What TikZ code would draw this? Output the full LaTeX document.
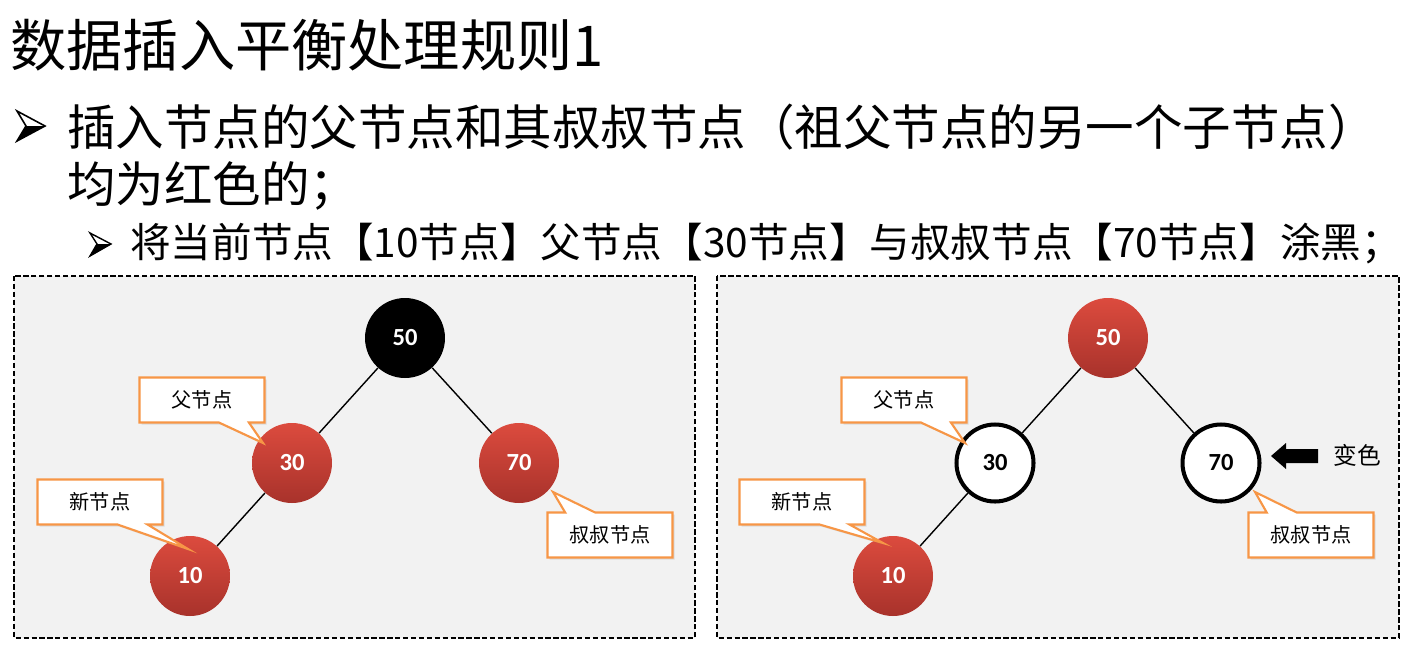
\documentclass[tikz,border=0pt]{standalone}
\usepackage{fontspec}
\setmainfont{Noto Sans CJK SC}
\newfontfamily\cjk{Noto Sans CJK SC}
\newfontfamily\numfont{Carlito}
\usetikzlibrary{shapes.callouts,calc,shadows}
\definecolor{panelgray}{HTML}{F2F2F2}
\definecolor{redtop}{HTML}{DC4B3E}
\definecolor{redbot}{HTML}{A8322B}
\definecolor{calloutorange}{HTML}{F79646}
\tikzset{
  x=0.02cm, y=-0.02cm,
  panel/.style={draw=black, fill=panelgray, line width=1pt, dash pattern=on 3pt off 1.5pt},
  numtext/.style={font=\numfont\bfseries\fontsize{14}{16}\selectfont},
  redn/.style={circle, minimum size=1.6cm, inner sep=0pt, top color=redtop, bottom color=redbot, draw=none, text=white, numtext},
  blackn/.style={circle, minimum size=1.6cm, inner sep=0pt, fill=black, text=white, numtext},
  whiten/.style={circle, minimum size=1.54cm, inner sep=0pt, fill=white, draw=black, line width=2.3pt, text=black, numtext},
  callbox/.style={rectangle callout, draw=calloutorange, line width=1.2pt, fill=white,
    minimum width=2.5cm, minimum height=0.9cm, inner sep=0pt, callout pointer width=0.6cm,
    drop shadow={opacity=0.2, shadow xshift=1.2pt, shadow yshift=-1.2pt},
    font=\cjk\fontsize{11.5}{13}\selectfont},
  treeedge/.style={draw=black, line width=0.8pt},
  txt/.style={anchor=west, inner sep=0pt},
  bulletline/.style={draw=black, line width=0.9pt, line join=miter},
}
\begin{document}
\begin{tikzpicture}
\useasboundingbox[fill=white] (0,0) rectangle (1406,670);

% title and text
\node[txt, font=\cjk\fontsize{32}{38}\selectfont] (title) at (10,45) {数据插入平衡处理规则1};
\node[txt, font=\cjk\fontsize{27.6}{32}\selectfont] (l1) at (67,127) {插入节点的父节点和其叔叔节点（祖父节点的另一个子节点）};
\node[txt, font=\cjk\fontsize{27.6}{32}\selectfont] (l2) at (67,186) {均为红色的；};
\node[txt, font=\cjk\fontsize{23.1}{27}\selectfont] (l3) at (130,244) {将当前节点【10节点】父节点【30节点】与叔叔节点【70节点】涂黑；};

% bullets (3D arrowheads)
\draw[bulletline, fill=white] (17,111) -- (45,126) -- (17,141) -- (26,126) -- cycle;
\fill[black] (26,126) -- (45,126) -- (17,141) -- cycle;
\draw[bulletline, line width=0.8pt, fill=white] (90,233) -- (111,244) -- (90,256) -- (97,244) -- cycle;
\fill[black] (97,244) -- (111,244) -- (90,256) -- cycle;

% panels
\draw[panel] (14,276) rectangle (695,638);
\draw[panel] (717,276) rectangle (1399,638);

% left tree
\node[blackn] (L50) at (405,338) {50};
\node[redn] (L30) at (292,463) {30};
\node[redn] (L70) at (519,463) {70};
\node[redn] (L10) at (190,576) {10};
\draw[treeedge] (L50) -- (L30);
\draw[treeedge] (L50) -- (L70);
\draw[treeedge] (L30) -- (L10);

\coordinate (tLf) at ($(L30)+(-29,-20)$);
\coordinate (tLn) at ($(L10)+(-2,-27)$);
\coordinate (tLu) at ($(L70)+(34,29)$);
\node[callbox, callout absolute pointer=(tLf)] (cLf) at (202,400) {父节点};
\node[callbox, callout absolute pointer=(tLn)] (cLn) at (100,502) {新节点};
\node[callbox, callout absolute pointer=(tLu)] (cLu) at (610,535) {叔叔节点};

% right tree
\node[redn] (R50) at (1108,338) {50};
\node[whiten] (R30) at (995,463) {30};
\node[whiten] (R70) at (1221,463) {70};
\node[redn] (R10) at (893,576) {10};
\draw[treeedge] (R50) -- (R30);
\draw[treeedge] (R50) -- (R70);
\draw[treeedge] (R30) -- (R10);

\coordinate (tRf) at ($(R30)+(-30,-20)$);
\coordinate (tRn) at ($(R10)+(-10,-33)$);
\coordinate (tRu) at ($(R70)+(34,29)$);
\node[callbox, callout absolute pointer=(tRf)] (cRf) at (904,400) {父节点};
\node[callbox, callout absolute pointer=(tRn)] (cRn) at (802,502) {新节点};
\node[callbox, callout absolute pointer=(tRu)] (cRu) at (1311,535) {叔叔节点};

% change-colour arrow
\fill[black] (1271,456) -- (1286,443) -- (1286,449) -- (1318,449) -- (1318,463) -- (1286,463) -- (1286,469) -- cycle;
\node[txt, font=\cjk\fontsize{13.5}{16}\selectfont] (bs) at (1333,455) {变色};
\end{tikzpicture}
\end{document}
